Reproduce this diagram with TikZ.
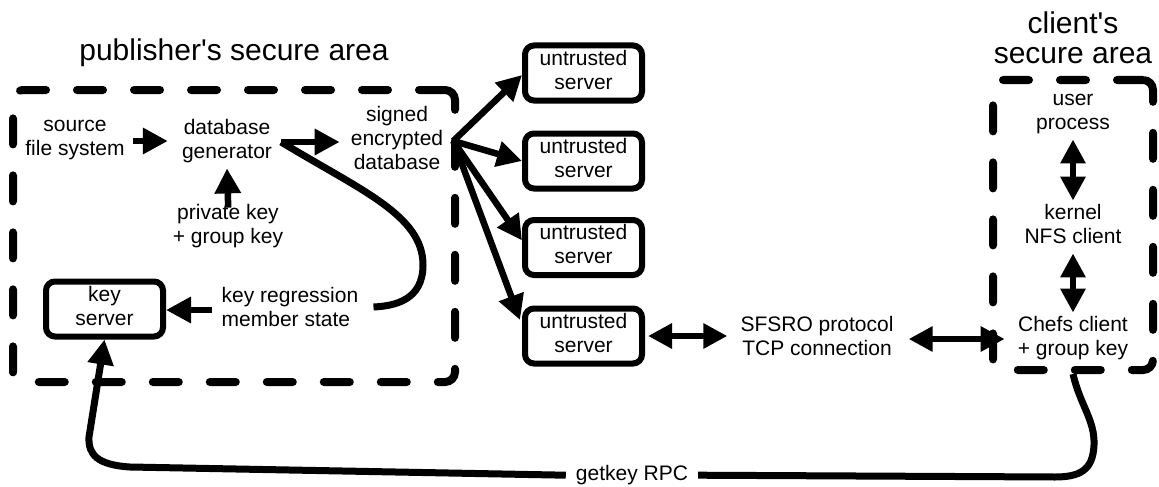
\documentclass[tikz,border=0pt]{standalone}
\usepackage{fontspec}
\newfontfamily\arial{Liberation Sans}
\usetikzlibrary{arrows.meta,calc}
\begin{document}
\begin{tikzpicture}[x=1pt,y=-1pt,
  lbl/.style={font=\arial\fontsize{21}{24}\selectfont, align=center, inner sep=3pt,
    execute at begin node=\strut, execute at end node=\strut},
  ttl/.style={font=\arial\fontsize{30}{30}\selectfont, align=center, inner sep=0pt},
  srv/.style={lbl, draw, line width=6pt, rounded corners=9pt, minimum width=117pt, minimum height=55pt},
  zone/.style={draw, line width=8pt, dash pattern=on 26pt off 31pt, line cap=round, rounded corners=10pt},
  arr/.style={line width=6.5pt, -{Triangle[length=25pt,width=25pt]}},
  darr/.style={line width=6pt, {Triangle[length=24pt,width=24pt]}-{Triangle[length=24pt,width=24pt]}},
  wire/.style={line width=7pt}]
\useasboundingbox (0,0) rectangle (1159,487);
% secure areas
\node[zone, minimum width=442pt, minimum height=292pt] (pbox) at (234,236) {};
\node[zone, minimum width=160pt, minimum height=290pt] (cbox) at (1073,225) {};
\node[ttl, anchor=base] (ptitle) at (234,60) {publisher's secure area};
\node[ttl] (ctitle) at (1073,42) {\strut client's\\secure area\strut};
% publisher side
\node[lbl] (src) at (75,141) {source\\file system};
\node[lbl] (gen) at (227,142) {database\\generator};
\node[lbl] (priv) at (228,227) {private key\\+ group key};
\node[lbl] (sdb) at (397,141) {signed\\encrypted\\database};
\node[srv] (ks) at (104.5,309) {key\\server};
\node[lbl, align=left] (kr) at (290,310) {key regression\\member state};
% untrusted servers
\node[srv] (u1) at (583.5,73) {untrusted\\server};
\node[srv] (u2) at (583.5,161) {untrusted\\server};
\node[srv] (u3) at (583.5,247.5) {untrusted\\server};
\node[srv] (u4) at (583.5,336) {untrusted\\server};
\node[lbl] (sfs) at (817,339) {SFSRO protocol\\TCP connection};
% client side
\node[lbl] (up) at (1073,115) {user\\process};
\node[lbl] (nfs) at (1073,227) {kernel\\NFS client};
\node[lbl] (chefs) at (1073,339) {Chefs client\\+ group key};
\node[lbl, inner xsep=10pt, anchor=base] (rpc) at (632,480) {getkey RPC};
% connectors
\draw[arr, shorten <=5pt, shorten >=11pt] (src.east) -- (src.east -| gen.west);
\draw[arr, shorten <=6pt, shorten >=8pt] (gen.east) -- (gen.east -| sdb.west);
\draw[wire] ($(gen.east)+(6,0)$) .. controls (360,190) and (423,215) .. (423,265)
  .. controls (423,300) and (395,306) .. ($(kr.east)+(12,-3)$);
\draw[arr, shorten <=-7pt] (priv.north) -- (gen.south);
\draw[arr, shorten <=7pt] (kr.west) -- (kr.west -| ks.east);
\draw[arr] ($(sdb.east)+(7,0)$) -- ($(u1.west)+(0,2)$);
\draw[arr] ($(sdb.east)+(7,0)$) -- (u2.west);
\draw[arr] ($(sdb.east)+(7,0)$) -- ($(u3.west)+(0,-7)$);
\draw[arr] ($(sdb.east)+(7,0)$) -- ($(u4.west)+(-2,-16)$);
\draw[darr, shorten <=3pt, shorten >=10pt] (u4.east) -- (u4.east -| sfs.west);
\draw[darr, shorten <=12pt, shorten >=10pt] (sfs.east) -- (sfs.east -| chefs.west);
\draw[darr] (up.south) -- (nfs.north);
\draw[darr] (nfs.south) -- (chefs.north);
\draw[wire] (cbox.south) .. controls (1080,405) and (1095,420) .. (1094,445)
  .. controls (1093,470) and (1080,477) .. (1055,477) -- (rpc.east);
\draw[wire, -{Triangle[length=25pt,width=25pt]}] (rpc.west) -- (130,467)
  .. controls (98,465) and (88,455) .. (89,437) -- (ks.south);
\end{tikzpicture}
\end{document}
